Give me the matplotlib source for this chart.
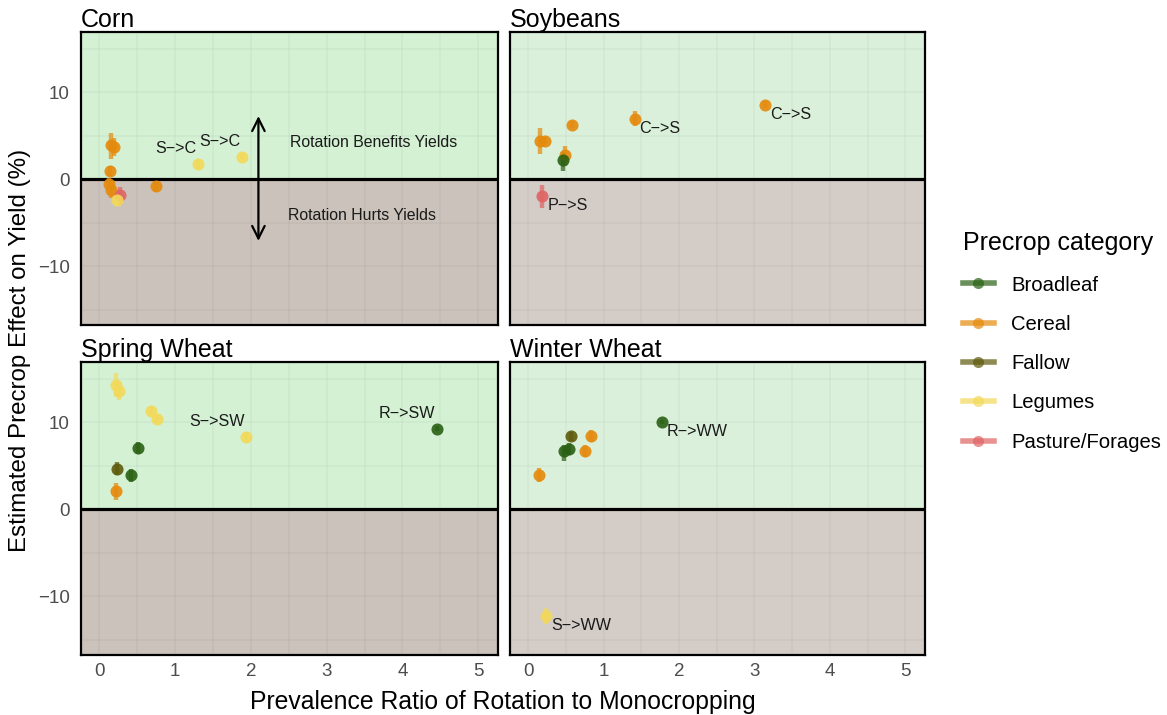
import matplotlib
matplotlib.use('Agg')

import matplotlib.pyplot as plt
from matplotlib.lines import Line2D
import numpy as np

plt.rcParams['font.family'] = ['Liberation Sans', 'DejaVu Sans']

# precrop categories and their colours
categories = ['Broadleaf', 'Cereal', 'Fallow', 'Legumes', 'Pasture/Forages']
cat_colors = ['#2a6114', '#e58a0c', '#5f5a0c', '#f3d95a', '#e06464']

# Corn
corn_x = [0.16, 0.20, 0.14, 0.13, 0.15, 0.27, 0.24, 0.75, 1.30, 1.88]
corn_y = [3.9, 3.7, 0.95, -0.5, -1.2, -1.85, -2.35, -0.8, 1.75, 2.6]
corn_lo = [2.4, 2.7, 0.4, -1.2, -2.1, -3.0, -2.8, -1.4, 1.2, 2.2]
corn_hi = [5.3, 4.8, 1.5, 0.2, -0.4, -0.9, -1.9, -0.3, 2.3, 3.0]
corn_cat = ['Cereal', 'Cereal', 'Cereal', 'Cereal', 'Cereal', 'Pasture/Forages',
            'Legumes', 'Cereal', 'Legumes', 'Legumes']
corn_lab = ['', '', '', '', '', '', '', '', 'S->C', 'S->C']

# Soybeans
soy_x = [0.16, 0.22, 0.58, 0.49, 0.46, 1.41, 3.14, 0.19]
soy_y = [4.4, 4.4, 6.3, 2.75, 2.2, 7.0, 8.6, -1.9]
soy_lo = [2.9, 3.9, 5.9, 1.5, 1.0, 6.1, 8.2, -3.3]
soy_hi = [5.9, 4.9, 6.7, 3.8, 3.2, 7.9, 9.0, -0.6]
soy_cat = ['Cereal', 'Cereal', 'Cereal', 'Cereal', 'Broadleaf', 'Cereal', 'Cereal',
           'Pasture/Forages']
soy_lab = ['', '', '', '', '', 'C->S', 'C->S', 'P->S']

# Spring Wheat
sw_x = [0.22, 0.26, 0.68, 0.76, 1.93, 4.45, 0.51, 0.23, 0.42, 0.22]
sw_y = [14.3, 13.6, 11.3, 10.4, 8.3, 9.3, 7.1, 4.7, 3.9, 2.1]
sw_lo = [12.9, 12.6, 10.8, 9.9, 7.7, 9.0, 6.4, 4.0, 3.2, 1.1]
sw_hi = [15.7, 14.6, 11.8, 10.9, 8.9, 9.6, 7.8, 5.4, 4.6, 3.0]
sw_cat = ['Legumes', 'Legumes', 'Legumes', 'Legumes', 'Legumes', 'Broadleaf',
          'Broadleaf', 'Fallow', 'Broadleaf', 'Cereal']
sw_lab = ['', '', '', '', 'S->SW', 'R->SW', '', '', '', '']

# Winter Wheat
ww_x = [1.77, 0.57, 0.83, 0.47, 0.54, 0.75, 0.15, 0.24]
ww_y = [10.05, 8.4, 8.4, 6.7, 7.0, 6.7, 4.0, -12.3]
ww_lo = [9.8, 7.9, 7.7, 5.6, 6.3, 6.0, 3.2, -13.2]
ww_hi = [10.3, 8.9, 9.1, 7.4, 7.6, 7.4, 4.8, -11.3]
ww_cat = ['Broadleaf', 'Fallow', 'Cereal', 'Broadleaf', 'Broadleaf', 'Cereal',
          'Cereal', 'Legumes']
ww_lab = ['R->WW', '', '', '', '', '', '', 'S->WW']

panel_names = ['Corn', 'Soybeans', 'Spring Wheat', 'Winter Wheat']
panel_data = [
    (corn_x, corn_y, corn_lo, corn_hi, corn_cat, corn_lab),
    (soy_x, soy_y, soy_lo, soy_hi, soy_cat, soy_lab),
    (sw_x, sw_y, sw_lo, sw_hi, sw_cat, sw_lab),
    (ww_x, ww_y, ww_lo, ww_hi, ww_cat, ww_lab),
]
# labels placed up-left of the point in the left column, down-right in the right
label_side = ['upleft', 'downright', 'upleft', 'downright']

# panel fills (the left column is a touch more saturated)
up_fill = ['#d4f1d4', '#daf0da', '#d4f1d4', '#daf0da']
down_fill = ['#cbc3bb', '#d4ccc7', '#cbc3bb', '#d4ccc7']

W, H = 1167, 715
fig = plt.figure(figsize=(W / 100, H / 100), dpi=100)

# panel boxes in pixels: (left, top, right, bottom)
boxes = [(81, 32, 498, 325), (510, 32, 925, 325),
         (81, 362, 498, 655), (510, 362, 925, 655)]

xlim = (-0.24, 5.26)
ylim = (-16.75, 16.95)
color_of = dict(zip(categories, cat_colors))

for i, (name, data, box) in enumerate(zip(panel_names, panel_data, boxes)):
    l, t, r, b = box
    ax = fig.add_axes([l / W, 1 - b / H, (r - l) / W, (b - t) / H])
    ax.set_xlim(*xlim)
    ax.set_ylim(*ylim)

    ax.axhspan(0, ylim[1], color=up_fill[i], zorder=0, lw=0)
    ax.axhspan(ylim[0], 0, color=down_fill[i], zorder=0, lw=0)
    ax.set_axisbelow(True)

    ax.set_xticks(np.arange(0, 6, 1))
    ax.set_xticks(np.arange(0.5, 5.5, 1), minor=True)
    ax.set_yticks([-10, 0, 10])
    ax.set_yticks([-15, -5, 5, 15], minor=True)
    ax.grid(which='both', color='black', alpha=0.035, lw=1.1)
    ax.tick_params(which='both', length=0, labelsize=13.5, labelcolor='#4d4d4d')
    ax.tick_params(axis='y', pad=8)
    ax.tick_params(axis='x', pad=6)
    if i < 2:
        ax.tick_params(axis='x', labelbottom=False)
    if i % 2 == 1:
        ax.tick_params(axis='y', labelleft=False)

    for s in ax.spines.values():
        s.set_linewidth(1.6)
        s.set_color('black')
    ax.axhline(0, color='black', lw=2.3, zorder=3)

    x, y, lo, hi, cat, lab = data
    for xi, yi, loi, hii, ci, li in zip(x, y, lo, hi, cat, lab):
        c = color_of[ci]
        ax.plot([xi, xi], [loi, hii], color=c, lw=3.2, alpha=0.7,
                solid_capstyle='butt', zorder=4)
        ax.plot(xi, yi, 'o', color=c, ms=8.7, mew=0, alpha=0.9, zorder=5)
        if li:
            txt = li.replace('-', '\u2212')
            if label_side[i] == 'upleft':
                ax.annotate(txt, (xi, yi), xytext=(-1, 8), textcoords='offset pixels',
                            ha='right', va='bottom', fontsize=11.6, color='#1a1a1a',
                            zorder=6)
            else:
                ax.annotate(txt, (xi, yi), xytext=(5, -2), textcoords='offset pixels',
                            ha='left', va='top', fontsize=11.6, color='#1a1a1a',
                            zorder=6)

    ax.set_title(name, loc='left', fontsize=18, pad=2)

    if name == 'Corn':
        ax.annotate('', xy=(2.1, 7.6), xytext=(2.1, -7.4),
                    arrowprops=dict(arrowstyle='<->,head_length=0.9,head_width=0.45',
                                    color='black', lw=1.6), zorder=6)
        ax.text(3.62, 4.2, 'Rotation Benefits Yields', ha='center', va='center',
                fontsize=11.4, color='#1a1a1a', zorder=6)
        ax.text(3.47, -4.2, 'Rotation Hurts Yields', ha='center', va='center',
                fontsize=11.4, color='#1a1a1a', zorder=6)

fig.text(503 / W, 1 - 702 / H, 'Prevalence Ratio of Rotation to Monocropping',
         ha='center', va='center', fontsize=17.8)
fig.text(20 / W, 1 - 350 / H, 'Estimated Precrop Effect on Yield (%)',
         ha='center', va='center', rotation=90, fontsize=17.4)

handles = [Line2D([0], [0], color=c, lw=4, alpha=0.7, marker='o', ms=8,
                  markerfacecolor=c, markeredgewidth=0) for c in cat_colors]
leg = fig.legend(handles, categories, title='Precrop category',
                 loc='upper left', bbox_to_anchor=(945 / W, 1 - 213 / H),
                 frameon=False, fontsize=14.6, title_fontsize=18,
                 handlelength=1.5, handletextpad=0.85, labelspacing=1.0,
                 alignment='left')

fig.savefig('out.png', dpi=100)
